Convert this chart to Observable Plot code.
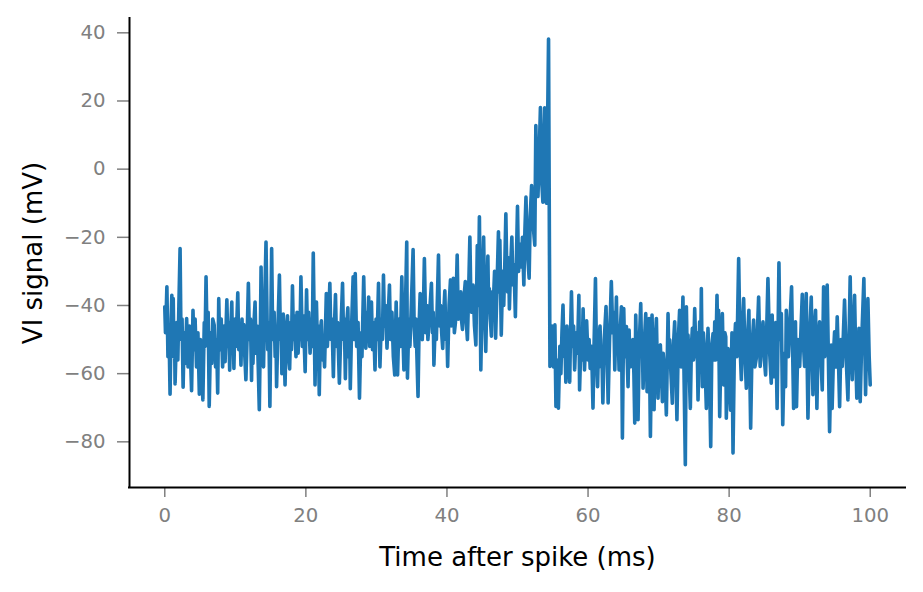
<!DOCTYPE html>
<html><head><meta charset="utf-8">
<script src="https://cdn.jsdelivr.net/npm/d3@7"></script>
<script src="https://cdn.jsdelivr.net/npm/@observablehq/plot@0.6"></script>
<style>
html,body{margin:0;padding:0;background:#fff;}
#chart svg{display:block;font-family:"DejaVu Sans",sans-serif;}
</style></head><body><div id="chart"></div>
<script>
// [time after spike (ms), VI signal (mV)], in chunks
const trace00to12 = [
 [0,-40.4],[0.1,-48],[0.2,-42],[0.3,-34.5],[0.45,-55],[0.6,-47],[0.75,-66],[0.9,-44],[1.0,-37],[1.1,-52],[1.2,-38],[1.3,-55],[1.38,-47],[1.46,-63],
 [1.7,-45],[1.85,-56],[2.0,-40],[2.17,-23.3],[2.3,-50],[2.45,-44],[2.6,-64],[2.75,-48],[2.9,-57],[3.1,-43.8],[3.3,-58],[3.5,-46],[3.65,-55],[3.8,-65],
 [4.0,-41.4],[4.15,-53],[4.3,-44],[4.5,-58],[4.7,-48],[4.9,-66],[5.05,-50],[5.2,-57],[5.4,-67.7],[5.6,-45],[5.7,-52],[5.85,-31.6],[6.0,-50],[6.15,-42],
 [6.3,-69.6],[6.5,-48],[6.65,-57],[6.8,-44],[7.0,-45.7],[7.2,-58],[7.35,-50],[7.5,-65.7],[7.65,-38],[7.8,-53],[7.9,-47],[8.0,-44],[8.2,-58],[8.4,-46],
 [8.55,-56.5],[8.8,-38.3],[8.95,-52],[9.05,-45],[9.2,-59],[9.35,-47],[9.5,-39],[9.6,-52],[9.7,-45],[9.8,-58.5],[9.95,-44],[10.1,-52],[10.35,-36.3],
 [10.5,-53],[10.65,-46],[10.8,-57.5],[10.95,-44],[11.05,-52],[11.2,-45.6],[11.35,-55],[11.5,-61.8],[11.7,-47],[11.85,-33.5]
];
const trace12to25 = [
 [12.0,-50],[12.15,-44],[12.3,-62],[12.4,-48],[12.5,-57],[12.65,-45],[12.8,-39],[12.95,-54],[13.1,-46],[13.25,-58],[13.4,-70.6],[13.55,-48],[13.65,-28.7],
 [13.8,-56],[13.9,-52],[14.0,-58],[14.15,-40],[14.35,-21.4],[14.5,-44],[14.6,-53],[14.75,-45],[14.9,-69.6],[15.15,-23.3],[15.3,-50],[15.4,-46],[15.5,-42],
 [15.65,-55],[15.75,-47],[15.85,-63.8],[16.05,-46],[16.25,-31.1],[16.4,-50],[16.5,-44],[16.6,-60],[16.8,-42.5],[16.9,-52],[17.05,-63.3],[17.2,-48],[17.4,-43],
 [17.55,-55],[17.7,-58.6],[17.85,-45],[17.95,-53],[18.1,-34.2],[18.25,-50],[18.35,-43],[18.6,-55],[18.75,-42],[18.9,-54],[19.05,-45],[19.15,-50],[19.3,-31.6],
 [19.5,-52],[19.65,-43],[19.9,-59.4],[20.1,-35.4],[20.25,-50],[20.4,-42],[20.6,-54],[20.75,-44],[20.9,-52],[21.05,-24.6],[21.3,-63.3],[21.5,-39],[21.65,-53],
 [21.75,-46],[21.9,-66.2],[22.05,-48],[22.2,-44.5],[22.35,-56],[22.5,-51.5],[22.65,-58],[22.8,-45],[22.9,-36.5],[23.05,-52],[23.2,-45],[23.4,-33.5],[23.55,-50],
 [23.7,-44],[23.9,-60.9],[24.05,-46],[24.2,-36.8],[24.35,-52],[24.5,-45],[24.75,-62.8]
];
const trace25to37 = [
 [24.95,-48],[25.2,-33.5],[25.35,-50],[25.45,-44],[25.6,-61.5],[25.75,-47],[25.95,-40.7],[26.1,-55],[26.2,-48],[26.3,-64.4],[26.5,-45],[26.7,-31.6],[26.8,-50],
 [26.9,-44],[27.0,-30.6],[27.2,-52],[27.4,-45],[27.6,-67.2],[27.8,-48],[27.95,-55],[28.2,-31.6],[28.35,-46],[28.5,-52.5],[28.65,-42],[28.75,-50],[28.9,-37.5],
 [29.05,-52],[29.15,-46],[29.3,-39],[29.45,-53],[29.6,-45],[29.8,-58.9],[29.95,-44],[30.1,-50],[30.3,-33.5],[30.4,-46],[30.5,-58],[30.7,-44],[30.85,-50],
 [31.0,-31.1],[31.15,-46],[31.3,-40],[31.5,-52.5],[31.65,-44],[31.85,-34],[32.0,-50],[32.2,-42],[32.4,-55],[32.6,-60.4],[32.8,-39],[32.9,-48],[33.0,-60.4],
 [33.2,-44],[33.4,-52],[33.6,-31.6],[33.75,-48],[33.9,-58.9],[34.1,-42],[34.3,-21.4],[34.4,-61.3],[34.6,-44],[34.75,-52],[34.95,-40],[35.2,-23.6],[35.35,-46],
 [35.5,-52],[35.6,-44],[35.9,-66.7],[36.05,-46],[36.2,-36.5],[36.35,-48],[36.5,-50],[36.65,-42],[36.8,-26.2],[37.0,-48],[37.15,-40],[37.3,-50]
];
const trace37to50 = [
 [37.55,-42],[37.8,-33.5],[37.95,-48],[38.05,-42],[38.15,-57.5],[38.35,-44],[38.5,-50],[38.8,-25.2],[38.95,-46],[39.1,-40],[39.25,-48],[39.4,-52.6],[39.55,-42],
 [39.7,-35.7],[39.85,-50],[39.95,-44],[40.1,-57.9],[40.3,-40],[40.5,-32.5],[40.6,-46],[40.75,-40],[40.9,-32],[41.05,-48],[41.2,-45],[41.3,-38],[41.45,-25.2],
 [41.6,-44],[41.8,-42.1],[41.95,-36],[42.05,-44],[42.2,-47],[42.4,-38],[42.6,-33],[42.75,-45],[42.9,-50],[43.05,-38],[43.25,-19.9],[43.4,-40],[43.5,-42],
 [43.7,-34],[43.9,-46],[44.1,-51.6],[44.3,-22.4],[44.45,-40],[44.6,-14],[44.8,-58.9],[45.0,-36],[45.2,-19.9],[45.35,-42],[45.5,-53.5],[45.65,-38],[45.8,-25.5],
 [45.9,-40],[46.0,-35],[46.15,-44],[46.3,-49],[46.45,-36],[46.6,-38],[46.75,-30],[46.9,-49.6],[47.1,-34],[47.3,-18.4],[47.4,-36],[47.5,-20.9],[47.7,-48.7],
 [47.9,-30],[48.05,-40],[48.2,-28],[48.35,-13.1],[48.5,-32],[48.6,-36],[48.75,-26],[48.85,-41],[49.0,-30],[49.2,-19.9],[49.35,-34],[49.5,-28],[49.7,-43.3],
 [49.85,-26],[50.0,-10.9]
];
const traceSpike = [
 [50.15,-30],[50.3,-22],[50.55,-28.7],[50.7,-20],[50.9,-34],[51.05,-18],[51.2,-8.2],[51.4,-24],[51.65,-32],[51.8,-14],[52.0,-4.8],[52.2,-16],[52.45,-22.3],
 [52.6,12.8],[52.75,-6],[52.9,-8],[53.05,2],[53.25,18.1],[53.45,-4],[53.6,-9.7],[53.85,18],[54.0,-6],[54.1,-10],[54.25,10],[54.4,38.2],[54.6,-57.9]
];
const trace55to63 = [
 [54.75,-50],[54.9,-46],[55.0,-54],[55.1,-58],[55.3,-45.7],[55.45,-69.6],[55.6,-56],[55.7,-66],[55.8,-70.1],[56.0,-52],[56.15,-60],[56.3,-48],[56.45,-39.9],
 [56.6,-55],[56.7,-48],[56.85,-62.5],[57.0,-46],[57.2,-55],[57.4,-62.5],[57.5,-50],[57.65,-36],[57.8,-52],[57.95,-46],[58.1,-58.9],[58.3,-48],[58.5,-54],
 [58.7,-37],[58.8,-64.8],[59.0,-50],[59.15,-56],[59.3,-41],[59.5,-58.9],[59.65,-50],[59.8,-44.5],[60.0,-56],[60.15,-50],[60.3,-58.5],[60.5,-52],[60.7,-70.1],
 [60.85,-52],[61.05,-32.1],[61.2,-55],[61.35,-63.8],[61.5,-50],[61.7,-46],[61.85,-58],[61.95,-52],[62.1,-68.6],[62.3,-50],[62.55,-40.3],[62.7,-54],[62.85,-68.6],
 [63.05,-50],[63.3,-33]
];
const trace63to76 = [
 [63.5,-48],[63.65,-42],[63.79,-58.9],[64.02,-37.5],[64.15,-52],[64.25,-46],[64.4,-58.9],[64.55,-48],[64.73,-40.4],[64.87,-78.9],[65.06,-40.9],[65.2,-55],
 [65.3,-50],[65.44,-46.2],[65.55,-56],[65.67,-63.8],[65.82,-47.2],[65.95,-58],[66.05,-52],[66.15,-57.9],[66.35,-50],[66.5,-60],[66.62,-74.5],[66.76,-42.8],
 [66.9,-56],[67.09,-73.5],[67.25,-52],[67.47,-39.4],[67.6,-55],[67.7,-50],[67.8,-64.3],[68.0,-50],[68.18,-42.4],[68.37,-65.3],[68.5,-52],[68.65,-43.8],
 [68.84,-78.4],[69.07,-42.8],[69.2,-56],[69.36,-70.6],[69.5,-52],[69.69,-43.8],[69.8,-56],[69.92,-67.2],[70.1,-52],[70.25,-51.6],[70.4,-60],[70.54,-68.2],
 [70.65,-54],[70.77,-56.9],[70.95,-62],[71.1,-72.1],[71.34,-42.4],[71.45,-55],[71.57,-50.1],[71.75,-60],[71.95,-68.7],[72.1,-52],[72.28,-44.8],[72.45,-58],
 [72.6,-73.5],[72.8,-50],[72.98,-41.4],[73.2,-58],[73.45,-37.5],[73.79,-86.7],[73.94,-40.4],[74.05,-54],[74.17,-48.7],[74.35,-60],[74.5,-70.2],[74.65,-52],
 [74.79,-46.7],[74.95,-56],[75.12,-40.9],[75.3,-55],[75.45,-48],[75.59,-67.7],[75.82,-44.8],[75.95,-56],[76.06,-35]
];
const trace76to89 = [
 [76.2,-63.8],[76.35,-48],[76.54,-54],[76.77,-70.2],[77.0,-46.7],[77.2,-58],[77.39,-81.4],[77.55,-52],[77.72,-48.2],[77.85,-56],[77.96,-44.8],[78.1,-56],
 [78.28,-37],[78.4,-52],[78.5,-41.4],[78.66,-72.6],[78.85,-52],[79.04,-42.4],[79.23,-63.3],[79.4,-48],[79.52,-49.2],[79.6,-73.1],[79.84,-52.6],[80.0,-60],
 [80.2,-70.7],[80.4,-48],[80.55,-83.3],[80.75,-52],[80.9,-45.3],[81.1,-55],[81.35,-26.2],[81.55,-52],[81.73,-61.8],[81.9,-46],[82.06,-38],[82.25,-55],
 [82.44,-64.3],[82.6,-50],[82.8,-41.4],[83.05,-76],[83.25,-52],[83.47,-44.3],[83.65,-58],[83.85,-55.5],[84.0,-48],[84.18,-37.5],[84.4,-57.9],[84.6,-50],
 [84.8,-44.8],[85.0,-56],[85.17,-60.4],[85.5,-32.1],[85.75,-54],[85.97,-62.8],[86.1,-42.8],[86.3,-60.9],[86.45,-50],[86.6,-45],[86.8,-70.2],[87.06,-27.5],
 [87.2,-50],[87.4,-42.4],[87.6,-75],[87.8,-54],[88.0,-63.8],[88.1,-41.4],[88.25,-50],[88.4,-55],[88.6,-46],[88.85,-34.5]
];
const trace89to100 = [
 [89.14,-70.2],[89.25,-52],[89.4,-44.8],[89.55,-69.7],[89.75,-50],[90.0,-57.9],[90.2,-46],[90.37,-36.7],[90.55,-52],[90.7,-57.9],[90.93,-36.5],[91.17,-73.1],
 [91.4,-50],[91.64,-37.5],[91.88,-66.2],[92.05,-48],[92.25,-41.4],[92.44,-70.2],[92.6,-52],[92.82,-44.8],[93.0,-55],[93.2,-64.8],[93.39,-34.5],[93.55,-55],
 [93.65,-48],[93.9,-34],[94.24,-77],[94.47,-51.6],[94.6,-70.2],[94.8,-54],[94.95,-47.7],[95.15,-58],[95.32,-43.3],[95.5,-56],[95.66,-69.7],[95.85,-50],
 [96.03,-57.9],[96.2,-48],[96.36,-38.4],[96.6,-56],[96.84,-67.7],[97.16,-31.6],[97.3,-52],[97.45,-61.8],[97.6,-48],[97.78,-37],[97.95,-55],[98.1,-67.2],
 [98.4,-46.7],[98.58,-68.2],[98.8,-50],[99.1,-32.1],[99.34,-66.2],[99.5,-50],[99.67,-38],[99.85,-55],[100,-63.3]
];
const xTicks = [0, 20, 40, 60, 80, 100];
const yTicks = [40, 20, 0, -20, -40, -60, -80];
const xLabel = "Time after spike (ms)";
const yLabel = "VI signal (mV)";
const xDomain = [-5, 105];
const yDomain = [-93.4, 44.2];

const data = [].concat(trace00to12, trace12to25, trace25to37, trace37to50, traceSpike,
                       trace55to63, trace63to76, trace76to89, trace89to100)
  .map(([t, v]) => ({t, v}));

const chart = Plot.plot({
  width: 923, height: 592,
  marginLeft: 129, marginRight: 18, marginTop: 18, marginBottom: 105,
  style: {fontFamily: "'DejaVu Sans', sans-serif", background: "#fff", overflow: "visible"},
  x: {domain: xDomain},
  y: {domain: yDomain},
  marks: [
    Plot.axisX(xTicks, {tickSize: 10, tickPadding: 10, fontSize: 19.7, color: "#808080", strokeWidth: 1.5, label: null}),
    Plot.axisY(yTicks, {tickSize: 12, tickPadding: 12, fontSize: 19.7, color: "#808080", strokeWidth: 1.5, label: null}),
    Plot.line(data, {x: "t", y: "v", stroke: "#1f77b4", strokeWidth: 3.6, strokeLinejoin: "round", strokeLinecap: "round"}),
    Plot.ruleX([xDomain[0]], {stroke: "black", strokeWidth: 2, strokeLinecap: "square"}),
    Plot.ruleY([yDomain[0]], {stroke: "black", strokeWidth: 2, strokeLinecap: "square"}),
    Plot.text([yLabel], {text: d => d, frameAnchor: "left", textAnchor: "middle", lineAnchor: "middle", dx: -96, rotate: -90, fontSize: 26, fill: "black"}),
    Plot.text([xLabel], {text: d => d, frameAnchor: "bottom", textAnchor: "middle", lineAnchor: "middle", dy: 70, fontSize: 26, fill: "black"})
  ]
});
document.getElementById("chart").appendChild(chart);
</script>
</body></html>
